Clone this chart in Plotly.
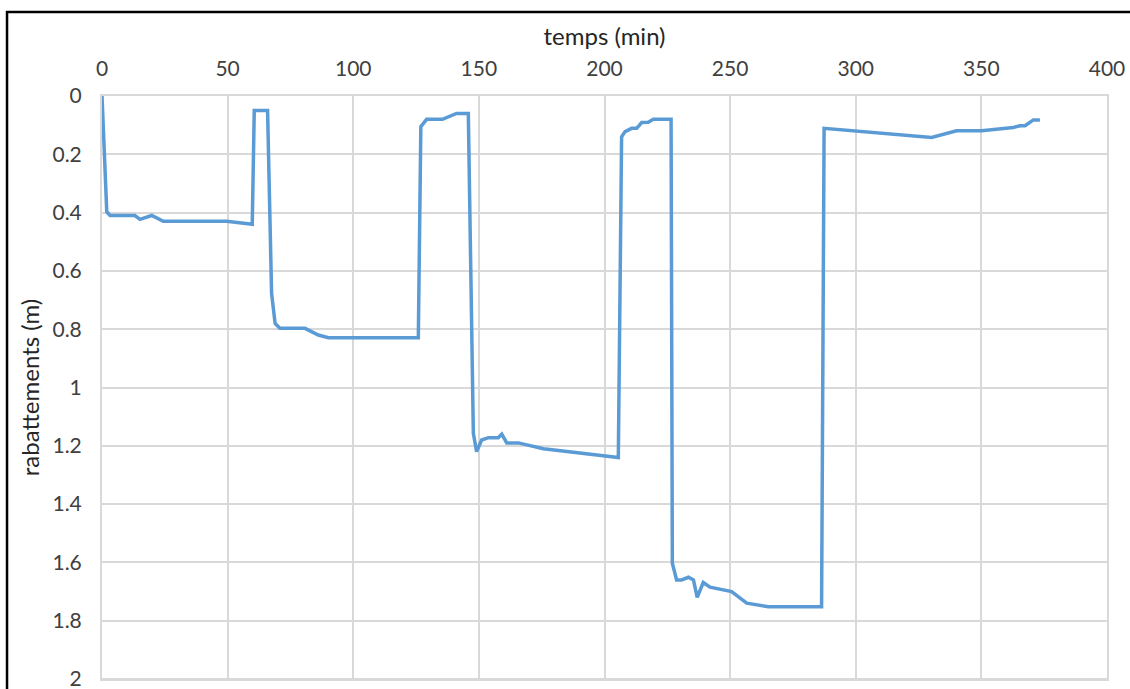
import plotly.graph_objects as go

temps_min = [0, 1.9, 3.2, 13.1, 15.1, 19.8, 24.4, 49.6, 59.8, 60.6, 65.9,
             67.5, 68.9, 70.8, 80.8, 86.1, 90.1, 125.9, 126.9, 129.2, 135.5,
             137.9, 139.2, 141.1, 145.8, 147.8, 149.1, 151.1, 153.8, 157.7,
             159.1, 161.1, 165.7, 175.7, 205.5, 206.8, 208.2, 210.8, 212.8,
             214.8, 217.4, 219.4, 226.5, 227.0, 228.7, 230.7, 233.4, 235.4,
             236.9, 239.3, 242.0, 250.6, 256.6, 265.2, 286.4, 287.4, 330.2,
             340.1, 350.1, 362.7, 365.4, 367.4, 370.7, 373.3]
rabattements_m = [0, 0.397, 0.41, 0.41, 0.423, 0.41, 0.43, 0.43, 0.44, 0.05, 0.05,
                  0.677, 0.78, 0.797, 0.797, 0.82, 0.829, 0.829, 0.105, 0.08, 0.08,
                  0.071, 0.068, 0.06, 0.06, 1.157, 1.22, 1.18, 1.172, 1.172,
                  1.16, 1.19, 1.19, 1.21, 1.24, 0.14, 0.122, 0.111, 0.111,
                  0.091, 0.09, 0.08, 0.08, 1.603, 1.66, 1.66, 1.651, 1.66,
                  1.72, 1.669, 1.685, 1.70, 1.74, 1.752, 1.752, 0.111, 0.142,
                  0.119, 0.119, 0.108, 0.102, 0.102, 0.082, 0.082]

x_ticks = [0, 50, 100, 150, 200, 250, 300, 350, 400]
y_ticks = [0, 0.2, 0.4, 0.6, 0.8, 1, 1.2, 1.4, 1.6, 1.8, 2]
y_labels = ["0", "0.2", "0.4", "0.6", "0.8", "1", "1.2", "1.4", "1.6", "1.8", "2"]

font = "Lato, 'Open Sans', sans-serif"
grid = "#D9D9D9"

fig = go.Figure()
fig.add_trace(go.Scatter(x=temps_min, y=rabattements_m, mode="lines",
                         line=dict(color="#5B9BD5", width=3.5)))

fig.update_layout(
    width=1130, height=689,
    margin=dict(l=102, r=23, t=96, b=10),
    paper_bgcolor="white", plot_bgcolor="white",
    showlegend=False,
    font=dict(family=font, size=21, color="#404040"),
    xaxis=dict(side="top", range=[0, 400], tickvals=x_ticks, automargin=False,
               showgrid=True, gridcolor=grid, gridwidth=2,
               showline=True, linecolor=grid, linewidth=2, mirror=True,
               zeroline=False, ticks="", ticklabelstandoff=10,
               ticklabeloverflow="allow",
               title=dict(text="temps (min)", standoff=2,
                          font=dict(size=24, color="#262626"))),
    yaxis=dict(range=[2.0, 0], tickvals=y_ticks, ticktext=y_labels, automargin=False,
               showgrid=True, gridcolor=grid, gridwidth=2,
               showline=True, linecolor=grid, linewidth=2, mirror=True,
               zeroline=False, ticks="", ticklabelstandoff=14,
               ticklabeloverflow="allow",
               title=dict(text="rabattements (m)", standoff=6,
                          font=dict(size=24, color="#262626"))),
    shapes=[dict(type="line", xref="paper", yref="paper",
                 x0=0, x1=1, y0=0, y1=0,
                 line=dict(color=grid, width=2), layer="below"),
            dict(type="rect", xref="paper", yref="paper",
                 x0=-0.0945, x1=1.1, y0=-0.1, y1=1.144,
                 line=dict(color="black", width=2.5), layer="above")],
)

fig.write_html("out.html")
